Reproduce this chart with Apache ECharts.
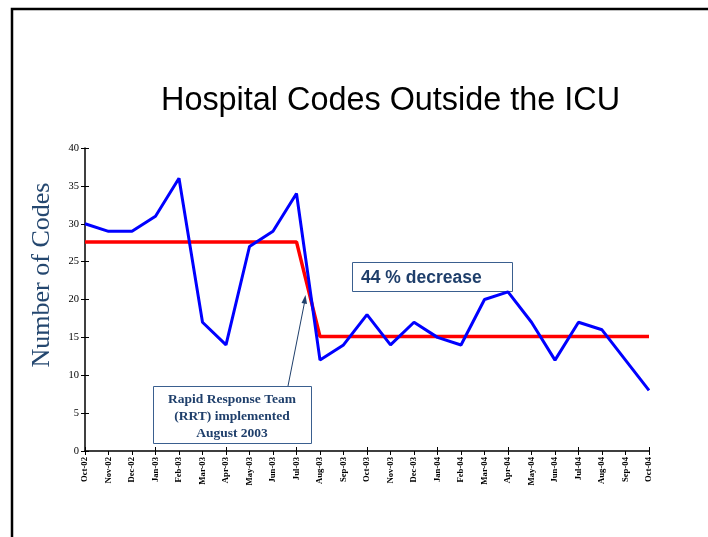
<!DOCTYPE html>
<html><head><meta charset="utf-8">
<script src="https://cdn.jsdelivr.net/npm/echarts@6/dist/echarts.min.js"></script>
<style>html,body{margin:0;padding:0;background:#fff}#c{width:708px;height:537px}</style>
</head><body><div id="c"></div>
<script>
const months = ["Oct-02","Nov-02","Dec-02","Jan-03","Feb-03","Mar-03","Apr-03","May-03","Jun-03","Jul-03","Aug-03","Sep-03","Oct-03","Nov-03","Dec-03","Jan-04","Feb-04","Mar-04","Apr-04","May-04","Jun-04","Jul-04","Aug-04","Sep-04","Oct-04"];
const codes = [30,29,29,31,36,17,14,27,29,34,12,14,18,14,17,15,14,20,21,17,12,17,16,12,8];
const meanLine = [27.6,27.6,27.6,27.6,27.6,27.6,27.6,27.6,27.6,27.6,15.1,15.1,15.1,15.1,15.1,15.1,15.1,15.1,15.1,15.1,15.1,15.1,15.1,15.1,15.1];
const yTicks = {min:0, max:40, interval:5};
const titleText = "Hospital Codes Outside the ICU";
const yName = "Number of Codes";
const noteDecrease = "44 % decrease";
const noteRRT = "Rapid Response Team\n(RRT) implemented\nAugust 2003";

const chart = echarts.init(document.getElementById('c'));
const navy = '#1F3F6B';
chart.setOption({
  animation:false,
  backgroundColor:'#fff',
  title:{text:titleText,left:156,top:80,textStyle:{fontFamily:'Liberation Sans, Arial, sans-serif',fontSize:32.4,fontWeight:'normal',color:'#000'}},
  grid:{left:85,right:59,top:148,bottom:86,containLabel:false},
  xAxis:[{
    type:'category',data:months,boundaryGap:false,
    axisLine:{lineStyle:{color:'#000',width:1.5}},
    axisTick:{show:true,alignWithLabel:true,length:4,lineStyle:{color:'#000'}},
    axisLabel:{rotate:90,interval:0,fontFamily:'Liberation Serif, Times New Roman, serif',fontWeight:'bold',fontSize:8.7,color:'#000',margin:6},
    splitLine:{show:false}
  },{
    type:'category',data:months,boundaryGap:false,position:'bottom',
    axisLine:{show:false},
    axisTick:{show:true,inside:true,length:4,lineStyle:{color:'#000'}},
    axisLabel:{show:false},splitLine:{show:false}
  }],
  yAxis:[{
    type:'value',min:yTicks.min,max:yTicks.max,interval:yTicks.interval,
    axisLine:{show:true,lineStyle:{color:'#000',width:1.5}},
    axisTick:{show:true,length:4,lineStyle:{color:'#000'}},
    axisLabel:{fontFamily:'Liberation Serif, Times New Roman, serif',fontSize:10.5,color:'#000',margin:6},
    splitLine:{show:false}
  },{
    type:'value',min:yTicks.min,max:yTicks.max,interval:yTicks.interval,position:'left',
    axisLine:{show:false},
    axisTick:{show:true,inside:true,length:4,lineStyle:{color:'#000'}},
    axisLabel:{show:false},splitLine:{show:false}
  }],
  series:[
    {type:'line',data:codes,symbol:'none',lineStyle:{color:'#0000FF',width:3},z:3},
    {type:'line',data:meanLine,symbol:'none',lineStyle:{color:'#FF0000',width:3.5},z:2}
  ],
  graphic:[
    {type:'polyline',shape:{points:[[12,537],[12,9],[708,9]]},style:{stroke:'#000',lineWidth:2.5,fill:null}},
    {type:'text',x:42,y:275,rotation:Math.PI/2,style:{text:yName,align:'center',verticalAlign:'middle',font:'26px "Liberation Serif", "Times New Roman", serif',fill:'#24476F'}},
    {type:'rect',shape:{x:352.5,y:262.5,width:160,height:29},style:{fill:'#fff',stroke:'#3A5F8F',lineWidth:1}},
    {type:'text',x:361,y:278,style:{text:noteDecrease,verticalAlign:'middle',font:'bold 17.5px "Liberation Sans", Arial, sans-serif',fill:navy}},
    {type:'line',shape:{x1:288,y1:386,x2:305,y2:300},style:{stroke:navy,lineWidth:1}},
    {type:'polygon',shape:{points:[[305.5,295],[301.5,303],[307,304]]},style:{fill:navy}},
    {type:'rect',shape:{x:153.5,y:386.5,width:158,height:57},style:{fill:'#fff',stroke:'#3A5F8F',lineWidth:1}},
    {type:'text',x:232,y:416.5,style:{text:noteRRT,align:'center',verticalAlign:'middle',lineHeight:17,font:'bold 13.5px "Liberation Serif", "Times New Roman", serif',fill:navy}}
  ]
});
</script></body></html>
